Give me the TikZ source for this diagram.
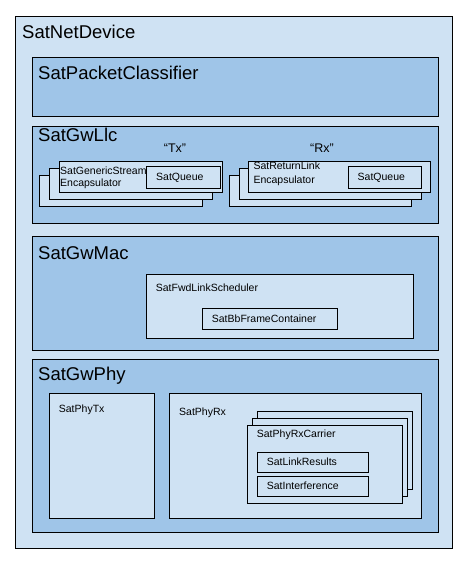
\documentclass[tikz,border=0pt]{standalone}
\usepackage{fontspec}
\setmainfont{Liberation Sans}
\definecolor{lb}{HTML}{CFE2F3}
\definecolor{mb}{HTML}{9FC5E8}
\tikzset{
  box/.style={draw=black, line width=0.9pt, inner sep=0pt, outer sep=0pt, anchor=north west},
  outerbox/.style={box, fill=lb},
  layerbox/.style={box, fill=mb},
  bigtxt/.style={font=\fontsize{18.5}{21}\selectfont, anchor=base west, inner sep=0pt},
  smalltxt/.style={font=\fontsize{10.5}{12}\selectfont, anchor=base west, inner sep=0pt},
  quotetxt/.style={font=\fontsize{12.5}{14}\selectfont, anchor=base, inner sep=0pt},
}
\begin{document}
\begin{tikzpicture}[x=1pt, y=-1pt]
\useasboundingbox (0,0) rectangle (465,566);
\fill[white] (0,0) rectangle (465,566);
% SatNetDevice
\node[outerbox, minimum width=437pt, minimum height=532pt] (dev) at (15,16) {};
\node[bigtxt] (devt) at (22,38.3) {SatNetDevice};
% SatPacketClassifier
\node[layerbox, minimum width=406pt, minimum height=59pt] (cls) at (32,57) {};
\node[bigtxt] (clst) at (38,79) {SatPacketClassifier};
% SatGwLlc
\node[layerbox, minimum width=406pt, minimum height=97pt] (llc) at (32,126) {};
\node[bigtxt] (llct) at (38,141.7) {SatGwLlc};
\node[quotetxt] (txq) at (175,152) {“Tx”};
\node[quotetxt] (rxq) at (322,152) {“Rx”};
% Tx stack
\node[outerbox, minimum width=163pt, minimum height=31pt] (txa) at (39,175) {};
\node[outerbox, minimum width=163pt, minimum height=31pt] (txb) at (49,168.3) {};
\node[outerbox, minimum width=163pt, minimum height=31pt] (txc) at (59,161.7) {};
\node[smalltxt] (gse1) at (60,174.3) {SatGenericStream};
\node[smalltxt] (gse2) at (60,186.5) {Encapsulator};
\node[outerbox, minimum width=74pt, minimum height=22pt] (txqu) at (146,166) {};
\node[smalltxt] (txqut) at (156,180.7) {SatQueue};
% Rx stack
\node[outerbox, minimum width=182pt, minimum height=31pt] (rxa) at (229.3,175) {};
\node[outerbox, minimum width=182pt, minimum height=31pt] (rxb) at (239.3,168.3) {};
\node[outerbox, minimum width=182pt, minimum height=31pt] (rxc) at (248.7,161.7) {};
\node[smalltxt] (rle1) at (253.3,169.8) {SatReturnLink};
\node[smalltxt] (rle2) at (253.3,183.3) {Encapsulator};
\node[outerbox, minimum width=73pt, minimum height=22pt] (rxqu) at (348.3,166) {};
\node[smalltxt] (rxqut) at (357.5,180.3) {SatQueue};
% SatGwMac
\node[layerbox, minimum width=406pt, minimum height=114pt] (mac) at (32,236) {};
\node[bigtxt] (mact) at (38,259.3) {SatGwMac};
\node[outerbox, minimum width=267pt, minimum height=64pt] (sch) at (146.3,274.3) {};
\node[smalltxt] (scht) at (155.7,291.7) {SatFwdLinkScheduler};
\node[outerbox, minimum width=135pt, minimum height=20.6pt] (bbf) at (202.3,308.7) {};
\node[smalltxt] (bbft) at (211.7,322.7) {SatBbFrameContainer};
% SatGwPhy
\node[layerbox, minimum width=406pt, minimum height=172.6pt] (phy) at (32,359.7) {};
\node[bigtxt] (phyt) at (38,380) {SatGwPhy};
\node[outerbox, minimum width=105pt, minimum height=125pt] (ptx) at (49.3,393.3) {};
\node[smalltxt] (ptxt) at (58.7,412.7) {SatPhyTx};
\node[outerbox, minimum width=252pt, minimum height=125pt] (prx) at (169.3,393.3) {};
\node[smalltxt] (prxt) at (179,415) {SatPhyRx};
% Carrier stack
\node[outerbox, minimum width=155pt, minimum height=78pt] (cra) at (257.3,411.7) {};
\node[outerbox, minimum width=155pt, minimum height=78pt] (crb) at (252.3,418.3) {};
\node[outerbox, minimum width=155pt, minimum height=78pt] (crc) at (247.3,425.3) {};
\node[smalltxt] (crt) at (256.7,437.3) {SatPhyRxCarrier};
\node[outerbox, minimum width=111pt, minimum height=20.4pt] (lnk) at (257.3,452.3) {};
\node[smalltxt] (lnkt) at (266.7,465) {SatLinkResults};
\node[outerbox, minimum width=111pt, minimum height=20pt] (itf) at (257.3,476.7) {};
\node[smalltxt] (itft) at (266.7,489.3) {SatInterference};
\end{tikzpicture}
\end{document}
